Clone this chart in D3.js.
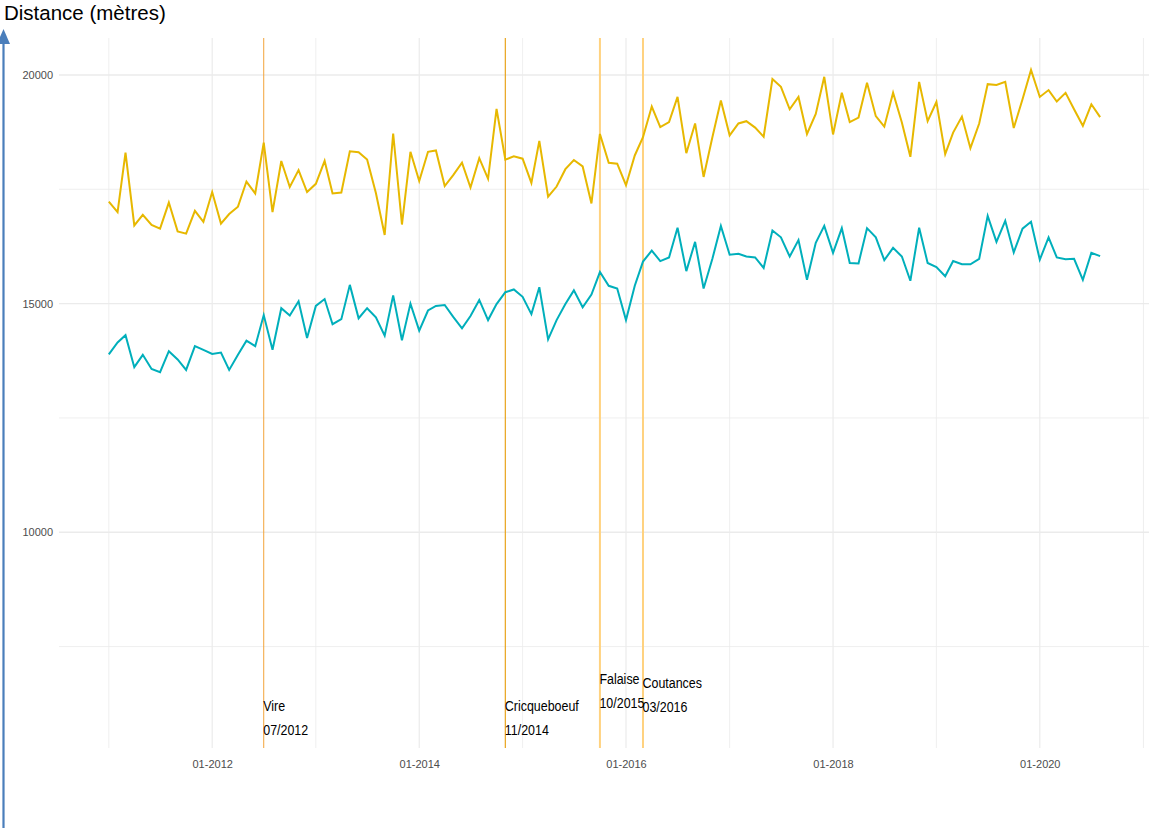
<!DOCTYPE html>
<html lang="fr">
<head>
  <meta charset="UTF-8">
  <title>Distance (mètres)</title>
  <script src="https://d3js.org/d3.v7.min.js"></script>
  <style>
    body { margin: 0; background: #fff; }
    svg { display: block; font-family: "Liberation Sans", Arial, sans-serif; }
    .tick text { fill: #4d4d4d; font-family: "Liberation Sans", Arial, sans-serif; font-size: 11px; }
    .lab { font-family: "Liberation Sans", Arial, sans-serif; font-size: 15px; fill: #000; }
  </style>
</head>
<body>
<script>
  // monthly values, 01-2011 .. 08-2020
  const startYear = 2011;
  const seriesHigh = [
    17230, 17000, 18300, 16710, 16940, 16720, 16640, 17210, 16580, 16530, 17030, 16790,
    17440, 16750, 16960, 17120, 17670, 17410, 18520, 17000, 18120, 17550, 17920, 17440,
    17620, 18120, 17410, 17430, 18330, 18310, 18150, 17420, 16500, 18720, 16730, 18320,
    17680, 18320, 18350, 17570, 17810, 18080, 17540, 18180, 17730, 19260, 18150, 18220,
    18170, 17640, 18560, 17340, 17560, 17940, 18140, 18000, 17190, 18710, 18080, 18060,
    17590, 18240, 18640, 19310, 18860, 18970, 19520, 18290, 18940, 17770, 18640, 19440,
    18680, 18940, 18990, 18850, 18650, 19910, 19740, 19250, 19520, 18710, 19150, 19960,
    18700, 19610, 18970, 19070, 19830, 19100, 18870, 19610, 18960, 18210, 19850, 18990,
    19410, 18270, 18740, 19090, 18400, 18940, 19800, 19780, 19850, 18840, 19470, 20110,
    19520, 19670, 19420, 19610, 19250, 18890, 19360, 19080
  ];
  const seriesLow = [
    13890, 14150, 14310, 13610, 13880, 13570, 13500, 13960, 13780, 13550, 14070, 13990,
    13900, 13930, 13550, 13880, 14190, 14070, 14750, 13990, 14900, 14740, 15050, 14250,
    14950, 15100, 14550, 14660, 15410, 14680, 14900, 14700, 14300, 15180, 14200, 15000,
    14410, 14850, 14950, 14970, 14710, 14460, 14730, 15080, 14640, 14990, 15250, 15310,
    15150, 14770, 15360, 14220, 14640, 14990, 15290, 14920, 15200, 15690, 15390, 15330,
    14640, 15390, 15920, 16160, 15930, 16010, 16660, 15710, 16350, 15330, 15980, 16700,
    16070, 16090, 16030, 16010, 15780, 16600, 16450, 16030, 16390, 15520, 16330, 16700,
    16110, 16650, 15890, 15880, 16650, 16450, 15950, 16220, 16030, 15500, 16660, 15890,
    15800, 15600, 15930, 15860, 15860, 15980, 16920, 16350, 16810, 16120, 16640, 16790,
    15960, 16450, 16010, 15970, 15980, 15520, 16110, 16040
  ];
  const yTicks = [10000, 15000, 20000];
  const yMinor = [7500, 12500, 17500];
  const xTickYears = [2012, 2014, 2016, 2018, 2020];
  const xMinorYears = [2011, 2013, 2015, 2017, 2019, 2021];
  const events = [
    { name: "Vire", date: "07/2012", y: 6000 },
    { name: "Cricqueboeuf", date: "11/2014", y: 6000 },
    { name: "Falaise", date: "10/2015", y: 6590 },
    { name: "Coutances", date: "03/2016", y: 6520 }
  ];
  const eventColors = ["#f2a33a", "#e9a41c", "#ffd27f", "#ffd27f"];
  const eventWidths = [1, 1.2, 2, 2];

  const W = 1149, H = 828;
  const panelLeft = 59, panelRight = W, panelTop = 38, panelBottom = 748;

  const parseMY = d3.timeParse("%m/%Y");
  const x = d3.scaleTime()
    .domain([new Date(2011, 0, 1), new Date(2020, 0, 1)])
    .range([108.8, 1039.8]);
  const y = d3.scaleLinear()
    .domain([5282, 20809])
    .range([panelBottom, panelTop]);

  const svg = d3.select("body").append("svg")
    .attr("width", W).attr("height", H);

  // grid
  const grid = svg.append("g");
  grid.selectAll(".hmin").data(yMinor).enter().append("line")
    .attr("x1", panelLeft).attr("x2", panelRight)
    .attr("y1", d => y(d)).attr("y2", d => y(d))
    .attr("stroke", "#ebebeb").attr("stroke-width", 0.8);
  grid.selectAll(".hmaj").data(yTicks).enter().append("line")
    .attr("x1", panelLeft).attr("x2", panelRight)
    .attr("y1", d => y(d)).attr("y2", d => y(d))
    .attr("stroke", "#ebebeb").attr("stroke-width", 1.4);
  grid.selectAll(".vmin").data(xMinorYears).enter().append("line")
    .attr("x1", d => x(new Date(d, 0, 1))).attr("x2", d => x(new Date(d, 0, 1)))
    .attr("y1", panelTop).attr("y2", panelBottom)
    .attr("stroke", "#ebebeb").attr("stroke-width", 0.8);
  grid.selectAll(".vmaj").data(xTickYears).enter().append("line")
    .attr("x1", d => x(new Date(d, 0, 1))).attr("x2", d => x(new Date(d, 0, 1)))
    .attr("y1", panelTop).attr("y2", panelBottom)
    .attr("stroke", "#ebebeb").attr("stroke-width", 1.2);

  // axes (no domain lines, ggplot minimal style)
  const yAxis = d3.axisLeft(y).tickValues(yTicks).tickSize(0).tickPadding(6).tickFormat(d3.format("d"));
  svg.append("g").attr("transform", `translate(${panelLeft},0)`).call(yAxis)
    .call(g => g.select(".domain").remove());
  const xAxis = d3.axisBottom(x)
    .tickValues(xTickYears.map(d => new Date(d, 0, 1)))
    .tickSize(0).tickPadding(12).tickFormat(d3.timeFormat("%m-%Y"));
  svg.append("g").attr("transform", `translate(0,${panelBottom})`).call(xAxis)
    .call(g => g.select(".domain").remove());

  // event lines
  svg.selectAll(".ev").data(events).enter().append("line")
    .attr("x1", d => x(parseMY(d.date))).attr("x2", d => x(parseMY(d.date)))
    .attr("y1", panelTop).attr("y2", panelBottom)
    .attr("stroke", (d, i) => eventColors[i])
    .attr("stroke-width", (d, i) => eventWidths[i]);

  // series
  const dateOf = i => new Date(startYear, i, 1);
  const line = d3.line().x((d, i) => x(dateOf(i))).y(d => y(d));
  svg.append("path").datum(seriesHigh).attr("d", line)
    .attr("fill", "none").attr("stroke", "#e7b800").attr("stroke-width", 2);
  svg.append("path").datum(seriesLow).attr("d", line)
    .attr("fill", "none").attr("stroke", "#00afbb").attr("stroke-width", 2);

  // event labels, condensed horizontally like the narrow font of the original
  const labs = svg.selectAll(".lab").data(events).enter().append("text")
    .attr("class", "lab")
    .attr("transform", d => `translate(${x(parseMY(d.date)) - 0.5},${y(d.y)}) scale(0.83,1)`);
  labs.append("tspan").attr("x", 0).attr("dy", "-0.25em").text(d => d.name);
  labs.append("tspan").attr("x", 0).attr("dy", "1.6em").text(d => d.date);

  // y arrow + title
  svg.append("line")
    .attr("x1", 3.5).attr("x2", 3.5).attr("y1", H).attr("y2", 40)
    .attr("stroke", "#4a7ebb").attr("stroke-width", 2.2);
  svg.append("path")
    .attr("d", "M3.5,29 L10,44 L-3,44 Z")
    .attr("fill", "#4a7ebb");
  svg.append("text")
    .attr("x", 4).attr("y", 20)
    .attr("font-size", 20.5).attr("fill", "#000")
    .text("Distance (mètres)");
</script>
</body>
</html>
